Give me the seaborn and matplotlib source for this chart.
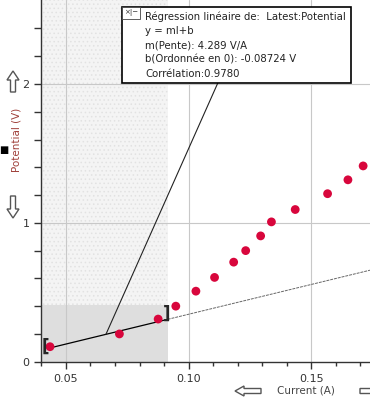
import numpy as np
import pandas as pd
import matplotlib
matplotlib.use("Agg")
import matplotlib.pyplot as plt
import seaborn as sns
from matplotlib.patches import Rectangle, Polygon

current = [0.0435, 0.0718, 0.0876, 0.0948, 0.1030, 0.1106, 0.1184, 0.1233,
           0.1294, 0.1338, 0.1435, 0.1567, 0.1650, 0.1712]
potential = [0.108, 0.200, 0.307, 0.400, 0.508, 0.607, 0.717, 0.800,
             0.906, 1.007, 1.096, 1.210, 1.310, 1.410]

# régression linéaire (affichée dans la boîte)
pente = 4.289
ordonnee = -0.08724
correlation = 0.9780
sel_debut, sel_fin = 0.0435, 0.0915
x_ticks = [0.05, 0.10, 0.15]
x_tick_labels = ["0.05", "0.10", "0.15"]
y_ticks = [0, 1, 2]

df = pd.DataFrame({"Current": current, "Potential": potential})

sns.set_style("white")
plt.rcParams["font.family"] = ["DejaVu Sans"]
plt.rcParams["hatch.linewidth"] = 0.6

W, H = 370, 398
fig = plt.figure(figsize=(W / 100, H / 100), dpi=100)
ax = fig.add_axes([0.112, 0.0912, 0.888, 0.9088])
ax.set_xlim(0.04, 0.174)
ax.set_ylim(0, 2.605)

# zone de sélection (pointillée) + rectangle gris
ax.axvspan(0.04, sel_fin, facecolor="#f4f4f4", edgecolor="#e2e2e2",
           hatch="....", linewidth=0, zorder=0)
ax.add_patch(Rectangle((0.04, 0), sel_fin - 0.04, 0.41,
                       facecolor="#dedede", edgecolor="none", zorder=0.5))

# grille
for xt in x_ticks:
    ax.axvline(xt, color="#c8c8c8", lw=0.8, zorder=0.6)
for yt in [1, 2]:
    ax.axhline(yt, color="#c8c8c8", lw=0.8, zorder=0.6)

# droite de régression
xs_in = np.array([sel_debut, sel_fin])
xs_out = np.array([sel_fin, 0.174])
ax.plot(xs_in, pente * xs_in + ordonnee, color="black", lw=0.9, zorder=2)
ax.plot(xs_out, pente * xs_out + ordonnee, color="#666666", lw=0.7,
        ls=(0, (3, 1)), zorder=2)

# points
sns.scatterplot(data=df, x="Current", y="Potential", ax=ax, color="#d8063c",
                s=40, edgecolor="none", zorder=3, legend=False)

# crochets de sélection
ax.text(0.0418, pente * sel_debut + ordonnee + 0.01, "[", fontsize=12,
        fontweight="bold", ha="center", va="center", zorder=4)
ax.text(0.0909, pente * sel_fin + ordonnee + 0.04, "]", fontsize=12,
        fontweight="bold", ha="center", va="center", zorder=4)

# trait vers la boîte
x_pied = 0.0663
ax.plot([x_pied, 0.112], [pente * x_pied + ordonnee, 2.01],
        color="#222222", lw=0.8, zorder=2)

# boîte de régression
ax.add_patch(Rectangle((0.0729, 2.01), 0.0935, 0.544, facecolor="white",
                       edgecolor="black", lw=1.2, zorder=5))
ax.add_patch(Rectangle((0.0729, 2.47), 0.0074, 0.084, facecolor="white",
                       edgecolor="#444444", lw=0.6, zorder=6))
ax.text(0.0766, 2.512, "×|−", fontsize=5, ha="center", va="center",
        color="#333333", zorder=7)
lignes = ["Régression linéaire de:  Latest:Potential",
          "y = ml+b",
          f"m(Pente): {pente} V/A",
          f"b(Ordonnée en 0): {ordonnee} V",
          f"Corrélation:{correlation:.4f}"]
for i, t in enumerate(lignes):
    ax.text(0.0822, 2.485 - i * 0.104, t, fontsize=7.3, color="#222222",
            ha="left", va="center", zorder=7)

# axes
ax.set_xticks(x_ticks)
ax.set_xticklabels(x_tick_labels)
ax.set_xticks(np.arange(0.04, 0.175, 0.01), minor=True)
ax.set_yticks(y_ticks)
ax.set_yticks(np.arange(0, 2.6, 0.2), minor=True)
ax.tick_params(axis="both", which="both", direction="out", color="#333333",
               labelsize=8, labelcolor="#333333")
ax.tick_params(which="major", length=5, width=1)
ax.tick_params(which="minor", length=3, width=1)
ax.tick_params(axis="y", which="both", length=5, left=True)
ax.tick_params(axis="x", which="both", bottom=True)
for s in ["top", "right"]:
    ax.spines[s].set_visible(False)
for s in ["left", "bottom"]:
    ax.spines[s].set_color("#333333")
    ax.spines[s].set_linewidth(1)
ax.set_xlabel("")
ax.set_ylabel("")

# libellés
fig.text(0.045, 0.648, "Potential (V)", rotation=90, color="#a0403a",
         fontsize=7.5, ha="center", va="center")
fig.text(0.828, 0.018, "Current (A)", color="#444444", fontsize=7.5,
         ha="center", va="center")
fig.text(0.011, 0.623, "■", fontsize=7, color="black", ha="center", va="center")


# flèches creuses (coordonnées en pixels de l'image)
def fleche(pts):
    pts = [(x / W, 1 - y / H) for x, y in pts]
    fig.add_artist(Polygon(pts, closed=True, facecolor="white",
                           edgecolor="#555555", lw=1.0,
                           transform=fig.transFigure))


def fleche_v(cx, y0, y1):
    # y0 = pointe
    d = 1 if y1 > y0 else -1
    yb = y0 + d * 9
    fleche([(cx, y0), (cx + 6, yb), (cx + 2.5, yb), (cx + 2.5, y1),
            (cx - 2.5, y1), (cx - 2.5, yb), (cx - 6, yb)])


def fleche_h(cy, x0, x1):
    d = 1 if x1 > x0 else -1
    xb = x0 + d * 9
    fleche([(x0, cy), (xb, cy - 5), (xb, cy - 2.5), (x1, cy - 2.5),
            (x1, cy + 2.5), (xb, cy + 2.5), (xb, cy + 5)])


fleche_v(13, 71, 92)
fleche_v(13, 218, 196)
fleche_h(391, 235, 261)
fleche_h(391, 386, 360)

fig.savefig("out.png", dpi=100)
